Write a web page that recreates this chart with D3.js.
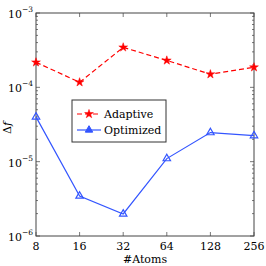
<!DOCTYPE html>
<html>
<head>
<meta charset="utf-8">
<script src="https://cdn.jsdelivr.net/npm/d3@7"></script>
<style>
  body { margin: 0; background: #fff; }
  text, tspan { font-family: "DejaVu Serif", serif; }
</style>
</head>
<body>
<script>
"use strict";

// data
const atoms = [8, 16, 32, 64, 128, 256];
const adaptive = [2.17e-4, 1.17e-4, 3.45e-4, 2.3e-4, 1.5e-4, 1.86e-4];
const optimized = [4.0e-5, 3.45e-6, 1.98e-6, 1.1e-5, 2.46e-5, 2.24e-5];
const yTicks = [1e-6, 1e-5, 1e-4, 1e-3];
const yExp = ["−6", "−5", "−4", "−3"];

const W = 266, H = 266;
const margin = {top: 13, right: 12, bottom: 30, left: 36};
const width = W - margin.left - margin.right,
      height = H - margin.top - margin.bottom;

const svg = d3.select("body").append("svg")
    .attr("width", W).attr("height", H);

const x = d3.scaleLog().base(2).domain([8, 256]).range([0, width]);
const y = d3.scaleLog().domain([1e-6, 1e-3]).range([height, 0]);

const g = svg.append("g")
    .attr("transform", "translate(" + margin.left + "," + margin.top + ")");

// minor ticks for the log y axis
let minor = [];
for (let e = -6; e < -3; e++) {
    for (let k = 2; k < 10; k++) minor.push(k * Math.pow(10, e));
}

const tickCol = "#555";
// y ticks, inward, both sides
g.selectAll(".ymaj").data(yTicks).enter().append("path")
    .attr("d", d => "M0," + y(d) + "h4M" + width + "," + y(d) + "h-4")
    .attr("stroke", tickCol).attr("stroke-width", 0.8);
g.selectAll(".ymin").data(minor).enter().append("path")
    .attr("d", d => "M0," + y(d) + "h2M" + width + "," + y(d) + "h-2")
    .attr("stroke", tickCol).attr("stroke-width", 0.8);
// x ticks, inward, top and bottom
g.selectAll(".xt").data(atoms).enter().append("path")
    .attr("d", d => "M" + x(d) + ",0v4M" + x(d) + "," + height + "v-4")
    .attr("stroke", tickCol).attr("stroke-width", 0.8);

// frame
g.append("rect").attr("width", width).attr("height", height)
    .attr("fill", "none").attr("stroke", "#444").attr("stroke-width", 1);

// x tick labels
g.selectAll(".xl").data(atoms).enter().append("text")
    .attr("x", d => x(d)).attr("y", height + 14)
    .attr("text-anchor", "middle").attr("font-size", 11)
    .text(d => d);

// y tick labels 10^n
const yl = g.selectAll(".yl").data(yTicks).enter().append("text")
    .attr("x", -3).attr("y", d => y(d) + 5)
    .attr("text-anchor", "end").attr("font-size", 11);
yl.append("tspan").text("10");
yl.append("tspan").attr("dy", -6).attr("font-size", 7.5).text((d, i) => yExp[i]);

// axis titles
g.append("text").attr("x", width / 2).attr("y", height + 27)
    .attr("text-anchor", "middle").attr("font-size", 11).text("#Atoms");
const yt = svg.append("text")
    .attr("transform", "translate(11," + (margin.top + 115) + ") rotate(-90)")
    .attr("text-anchor", "middle").attr("font-size", 11);
yt.append("tspan").text("Δ");
yt.append("tspan").attr("font-style", "italic").text("f");

// lines
const line = d3.line().x(d => x(d[0])).y(d => y(d[1]));
const star = d3.symbol().type(d3.symbolStar).size(24);
const tri = d3.symbol().type(d3.symbolTriangle).size(24);

const red = "#ff0000", blue = "#3355ff";
const adData = atoms.map((a, i) => [a, adaptive[i]]);
const opData = atoms.map((a, i) => [a, optimized[i]]);

g.append("path").datum(adData).attr("d", line)
    .attr("fill", "none").attr("stroke", red).attr("stroke-width", 1.2)
    .attr("stroke-dasharray", "5,3");
g.selectAll(".ad").data(adData).enter().append("path")
    .attr("transform", d => "translate(" + x(d[0]) + "," + y(d[1]) + ")")
    .attr("d", star).attr("fill", red).attr("stroke", red).attr("stroke-width", 0.5);

g.append("path").datum(opData).attr("d", line)
    .attr("fill", "none").attr("stroke", blue).attr("stroke-width", 1.2);
g.selectAll(".op").data(opData).enter().append("path")
    .attr("transform", d => "translate(" + x(d[0]) + "," + y(d[1]) + ")")
    .attr("d", tri).attr("fill", "none").attr("stroke", blue).attr("stroke-width", 1.2);

// legend
const lg = svg.append("g").attr("transform", "translate(72,100)");
lg.append("rect").attr("width", 94).attr("height", 42)
    .attr("fill", "#fff").attr("stroke", "#333").attr("stroke-width", 1);
lg.append("line").attr("x1", 5).attr("x2", 29).attr("y1", 14).attr("y2", 14)
    .attr("stroke", red).attr("stroke-width", 1.2).attr("stroke-dasharray", "5,3");
lg.append("path").attr("transform", "translate(17,14)").attr("d", star)
    .attr("fill", red).attr("stroke", red).attr("stroke-width", 0.5);
lg.append("text").attr("x", 32).attr("y", 18).attr("font-size", 11).text("Adaptive");
lg.append("line").attr("x1", 5).attr("x2", 29).attr("y1", 30).attr("y2", 30)
    .attr("stroke", blue).attr("stroke-width", 1.2);
lg.append("path").attr("transform", "translate(17,30)").attr("d", tri)
    .attr("fill", blue).attr("stroke", blue).attr("stroke-width", 1);
lg.append("text").attr("x", 32).attr("y", 34).attr("font-size", 11).text("Optimized");
</script>
</body>
</html>
